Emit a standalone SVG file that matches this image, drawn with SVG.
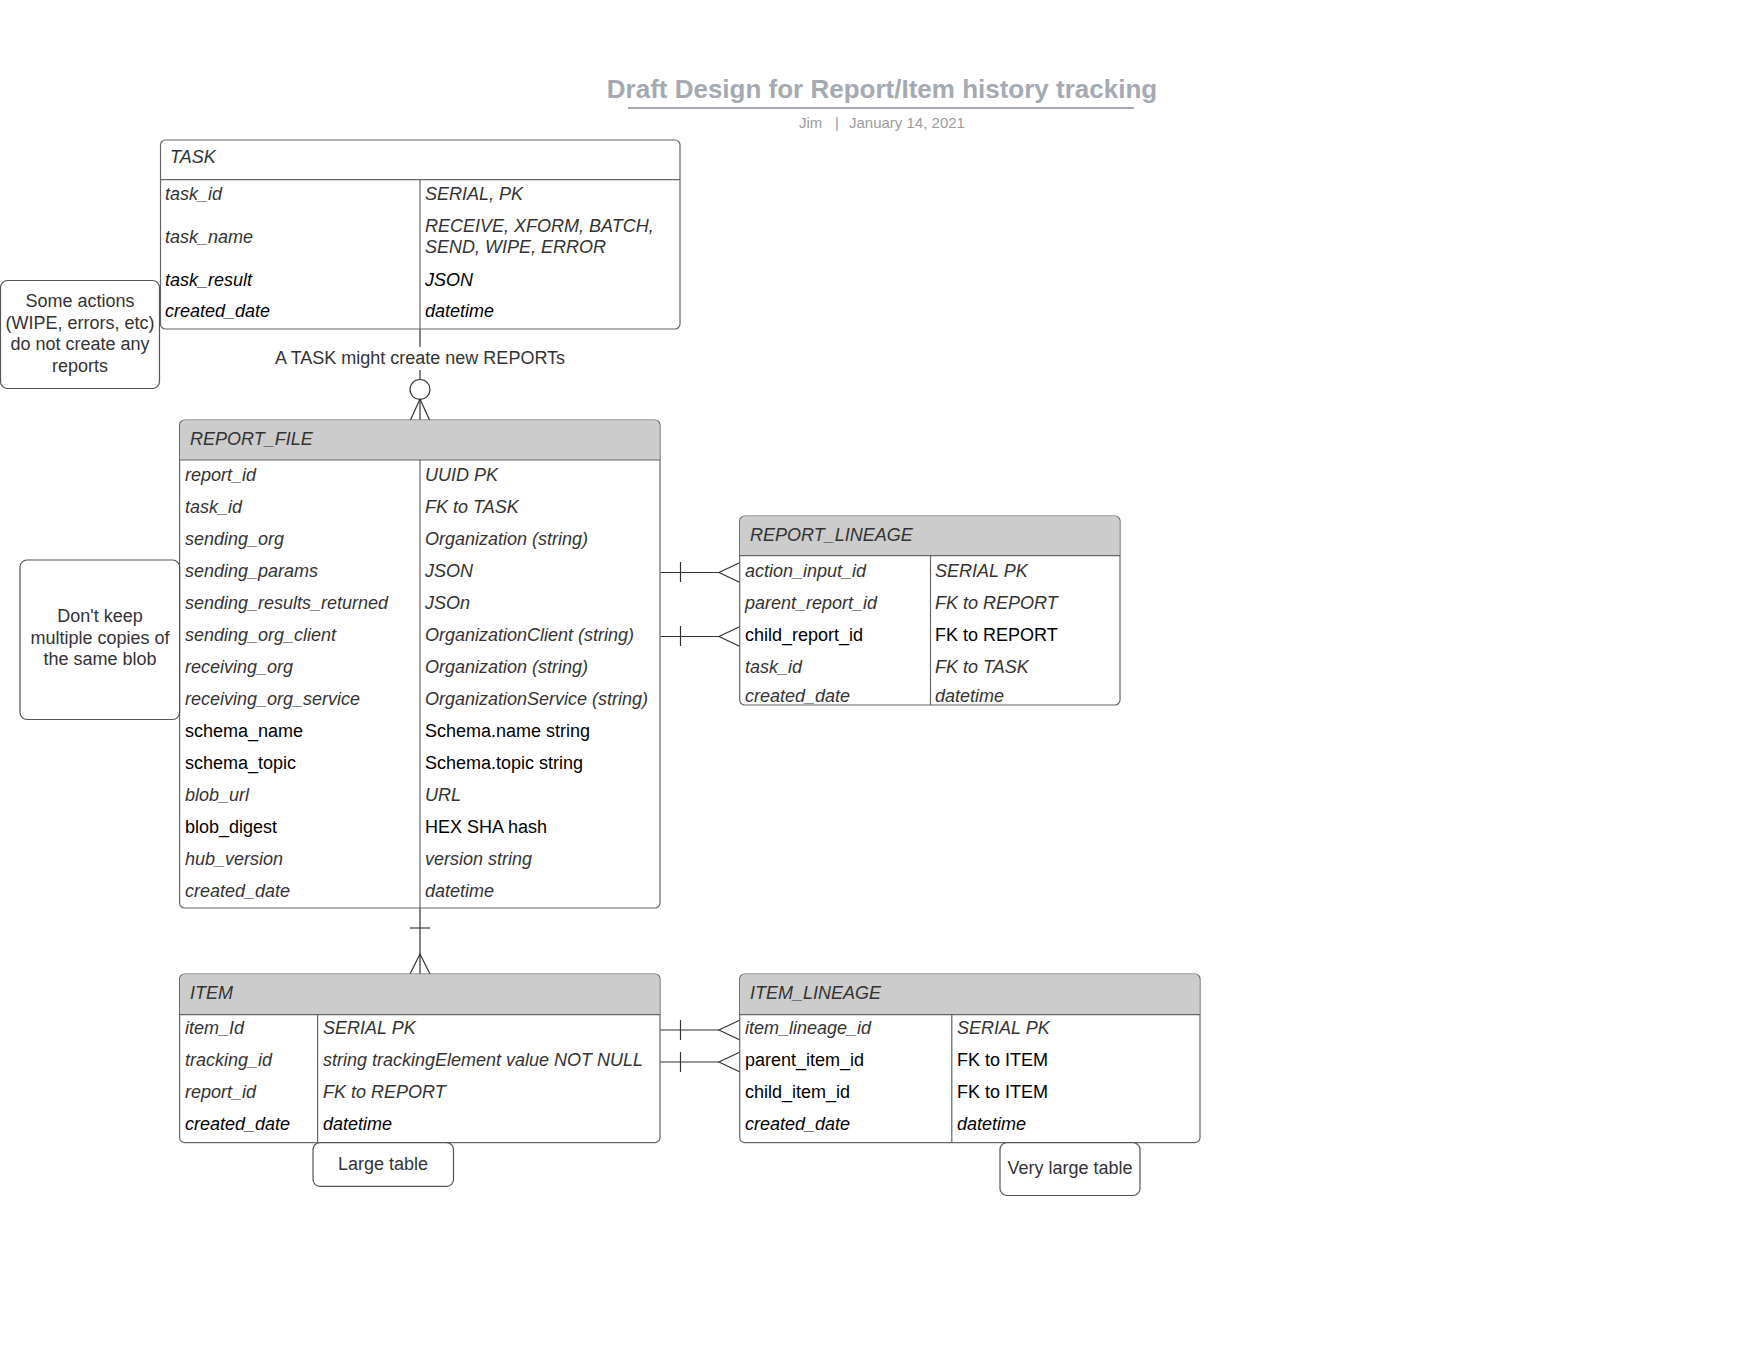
<svg xmlns="http://www.w3.org/2000/svg" width="1760" height="1360" viewBox="0 0 1760 1360">
<style>
text{font-family:"Liberation Sans",Arial,sans-serif;font-size:18px}
.g{fill:#333333;font-style:italic}
.bi{fill:#000000;font-style:italic}
.b{fill:#000000}
.hdr{fill:#333333;font-style:italic}
.box{fill:#ffffff;stroke:#666666;stroke-width:1.2}
.hf{fill:#cccccc;stroke:none}
.ln{stroke:#666666;stroke-width:1.2;fill:none}
.cn{stroke:#333333;stroke-width:1.2;fill:none}
.note{fill:#ffffff;stroke:#555555;stroke-width:1.2}
.nt{fill:#333333;text-anchor:middle}
</style>
<rect width="1760" height="1360" fill="#ffffff"/>
<g id="title">
<text x="882" y="98" text-anchor="middle" style="font-size:26px;font-weight:bold;fill:#a5aab2">Draft Design for Report/Item history tracking</text>
<line x1="628" y1="108" x2="1134" y2="108" stroke="#a5aab2" stroke-width="2"/>
<text x="799" y="128" style="font-size:15px;fill:#9c9c9c">Jim</text>
<text x="835" y="128" style="font-size:15px;fill:#9c9c9c">|</text>
<text x="849" y="128" style="font-size:15px;fill:#9c9c9c">January 14, 2021</text>
</g>
<g id="connectors">
<line class="cn" x1="420" y1="329" x2="420" y2="347"/>
<text x="420" y="364" text-anchor="middle" fill="#333333">A TASK might create new REPORTs</text>
<line class="cn" x1="420" y1="370" x2="420" y2="379.5"/>
<circle class="cn" cx="420" cy="389.5" r="10"/>
<line class="cn" x1="420" y1="399.5" x2="420" y2="420"/>
<polyline class="cn" points="410.5,420 420,399 429.5,420"/>
<line class="cn" x1="660" y1="572.5" x2="719" y2="572.5"/>
<line class="cn" x1="680.5" y1="562" x2="680.5" y2="582"/>
<polyline class="cn" points="740,562.5 719,572.5 740,582.5"/>
<line class="cn" x1="660" y1="636.5" x2="719" y2="636.5"/>
<line class="cn" x1="680.5" y1="626" x2="680.5" y2="646"/>
<polyline class="cn" points="740,626.5 719,636.5 740,646.5"/>
<line class="cn" x1="420" y1="908" x2="420" y2="974"/>
<line class="cn" x1="410" y1="928" x2="430" y2="928"/>
<polyline class="cn" points="410,974 420,954 430,974"/>
<line class="cn" x1="660" y1="1030" x2="719" y2="1030"/>
<line class="cn" x1="680.5" y1="1020" x2="680.5" y2="1040"/>
<polyline class="cn" points="740,1020 719,1030 740,1040"/>
<line class="cn" x1="660" y1="1062" x2="719" y2="1062"/>
<line class="cn" x1="680.5" y1="1052" x2="680.5" y2="1072"/>
<polyline class="cn" points="740,1052 719,1062 740,1072"/>
</g>
<g id="task">
<rect class="box" x="160.5" y="140" width="519.5" height="189" rx="5"/>
<line class="ln" x1="160.5" y1="179.6" x2="680" y2="179.6"/>
<line class="ln" x1="420" y1="179.6" x2="420" y2="329"/>
<text class="hdr" x="170" y="163">TASK</text>
<text class="g" x="165" y="200">task_id</text>
<text class="g" x="425" y="200">SERIAL, PK</text>
<text class="g" x="165" y="243">task_name</text>
<text class="g" x="425" y="232">RECEIVE, XFORM, BATCH,</text>
<text class="g" x="425" y="253">SEND, WIPE, ERROR</text>
<text class="bi" x="165" y="286">task_result</text>
<text class="bi" x="425" y="286">JSON</text>
<text class="bi" x="165" y="317">created_date</text>
<text class="bi" x="425" y="317">datetime</text>
</g>
<g id="note-actions">
<rect class="note" x="0.5" y="280.5" width="159" height="108" rx="7"/>
<text class="nt" x="80" y="307">Some actions</text>
<text class="nt" x="80" y="328.5">(WIPE, errors, etc)</text>
<text class="nt" x="80" y="350">do not create any</text>
<text class="nt" x="80" y="371.5">reports</text>
</g>
<g id="report_file">
<rect class="box" x="179.6" y="420" width="480.4" height="488" rx="5"/>
<path class="hf" d="M184.6,420.6 H655 A4.4,4.4 0 0 1 659.4,425 V460 H180.2 V425 A4.4,4.4 0 0 1 184.6,420.6 Z"/>
<line class="ln" x1="179.6" y1="460" x2="660" y2="460"/>
<line class="ln" x1="420" y1="460" x2="420" y2="908"/>
<text class="hdr" x="190" y="445">REPORT_FILE</text>
<text class="g" x="185" y="481">report_id</text><text class="g" x="425" y="481">UUID PK</text>
<text class="g" x="185" y="513">task_id</text><text class="g" x="425" y="513">FK to TASK</text>
<text class="g" x="185" y="545">sending_org</text><text class="g" x="425" y="545">Organization (string)</text>
<text class="g" x="185" y="577">sending_params</text><text class="g" x="425" y="577">JSON</text>
<text class="g" x="185" y="609">sending_results_returned</text><text class="g" x="425" y="609">JSOn</text>
<text class="g" x="185" y="641">sending_org_client</text><text class="g" x="425" y="641">OrganizationClient (string)</text>
<text class="g" x="185" y="673">receiving_org</text><text class="g" x="425" y="673">Organization (string)</text>
<text class="g" x="185" y="705">receiving_org_service</text><text class="g" x="425" y="705">OrganizationService (string)</text>
<text class="b" x="185" y="737">schema_name</text><text class="b" x="425" y="737">Schema.name string</text>
<text class="b" x="185" y="769">schema_topic</text><text class="b" x="425" y="769">Schema.topic string</text>
<text class="g" x="185" y="801">blob_url</text><text class="g" x="425" y="801">URL</text>
<text class="b" x="185" y="833">blob_digest</text><text class="b" x="425" y="833">HEX SHA hash</text>
<text class="g" x="185" y="865">hub_version</text><text class="g" x="425" y="865">version string</text>
<text class="g" x="185" y="897">created_date</text><text class="g" x="425" y="897">datetime</text>
</g>
<g id="note-blob">
<rect class="note" x="20" y="560" width="159.6" height="159.5" rx="7"/>
<text class="nt" x="100" y="622">Don't keep</text>
<text class="nt" x="100" y="643.5">multiple copies of</text>
<text class="nt" x="100" y="665">the same blob</text>
</g>
<g id="report_lineage">
<rect class="box" x="739.7" y="516" width="380.3" height="189" rx="5"/>
<path class="hf" d="M744.7,516.6 H1115 A4.4,4.4 0 0 1 1119.4,521 V555.6 H740.3 V521 A4.4,4.4 0 0 1 744.7,516.6 Z"/>
<line class="ln" x1="739.7" y1="555.6" x2="1120" y2="555.6"/>
<line class="ln" x1="930.5" y1="555.6" x2="930.5" y2="705"/>
<text class="hdr" x="750" y="541">REPORT_LINEAGE</text>
<text class="g" x="745" y="577">action_input_id</text><text class="g" x="935" y="577">SERIAL PK</text>
<text class="g" x="745" y="609">parent_report_id</text><text class="g" x="935" y="609">FK to REPORT</text>
<text class="b" x="745" y="641">child_report_id</text><text class="b" x="935" y="641">FK to REPORT</text>
<text class="g" x="745" y="673">task_id</text><text class="g" x="935" y="673">FK to TASK</text>
<text class="g" x="745" y="702">created_date</text><text class="g" x="935" y="702">datetime</text>
</g>
<g id="item">
<rect class="box" x="179.6" y="974" width="480.4" height="168.6" rx="5"/>
<path class="hf" d="M184.6,974.6 H655 A4.4,4.4 0 0 1 659.4,979 V1014.7 H180.2 V979 A4.4,4.4 0 0 1 184.6,974.6 Z"/>
<line class="ln" x1="179.6" y1="1014.7" x2="660" y2="1014.7"/>
<line class="ln" x1="317.6" y1="1014.7" x2="317.6" y2="1142.6"/>
<text class="hdr" x="190" y="999">ITEM</text>
<text class="g" x="185" y="1034">item_Id</text><text class="g" x="323" y="1034">SERIAL PK</text>
<text class="g" x="185" y="1066">tracking_id</text><text class="g" x="323" y="1066">string trackingElement value NOT NULL</text>
<text class="g" x="185" y="1098">report_id</text><text class="g" x="323" y="1098">FK to REPORT</text>
<text class="bi" x="185" y="1130">created_date</text><text class="bi" x="323" y="1130">datetime</text>
</g>
<g id="item_lineage">
<rect class="box" x="739.7" y="974" width="460.3" height="168.6" rx="5"/>
<path class="hf" d="M744.7,974.6 H1195 A4.4,4.4 0 0 1 1199.4,979 V1014.7 H740.3 V979 A4.4,4.4 0 0 1 744.7,974.6 Z"/>
<line class="ln" x1="739.7" y1="1014.7" x2="1200" y2="1014.7"/>
<line class="ln" x1="951.8" y1="1014.7" x2="951.8" y2="1142.6"/>
<text class="hdr" x="750" y="999">ITEM_LINEAGE</text>
<text class="g" x="745" y="1034">item_lineage_id</text><text class="g" x="957" y="1034">SERIAL PK</text>
<text class="b" x="745" y="1066">parent_item_id</text><text class="b" x="957" y="1066">FK to ITEM</text>
<text class="b" x="745" y="1098">child_item_id</text><text class="b" x="957" y="1098">FK to ITEM</text>
<text class="bi" x="745" y="1130">created_date</text><text class="bi" x="957" y="1130">datetime</text>
</g>
<g id="note-large">
<rect class="note" x="313" y="1142.6" width="140.5" height="43.8" rx="7"/>
<text class="nt" x="383" y="1170">Large table</text>
</g>
<g id="note-very-large">
<rect class="note" x="1000" y="1142.6" width="140" height="52.9" rx="7"/>
<text class="nt" x="1070" y="1174">Very large table</text>
</g>
</svg>
